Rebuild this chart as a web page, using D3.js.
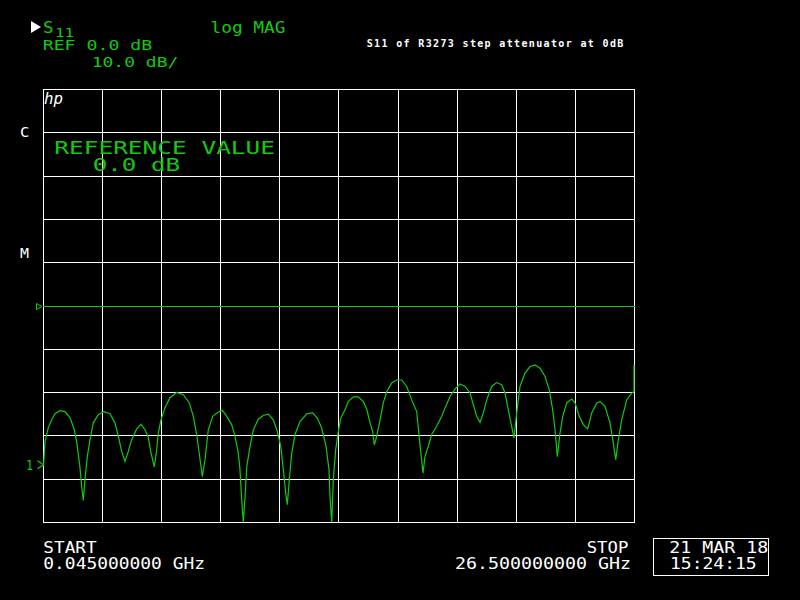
<!DOCTYPE html>
<html>
<head>
<meta charset="utf-8">
<script src="https://cdn.jsdelivr.net/npm/d3@7"></script>
<style>
  html, body { margin: 0; padding: 0; background: #000; }
  svg { display: block; }
  text { font-family: "DejaVu Sans Mono", "Liberation Mono", monospace; }
</style>
</head>
<body>
<svg id="chart" width="800" height="600"></svg>
<script>
// ---- Data ----
const startGHz = 0.045;
const stopGHz = 26.5;
const refDB = 0.0;
const dbPerDiv = 10.0;
const freqGHz = [
  0.067, 0.135, 0.282, 0.434, 0.582, 0.806, 1.03, 1.254, 1.446, 1.554,
  1.701, 1.777, 1.849, 1.925, 2.028, 2.149, 2.297, 2.52, 2.776, 3.044,
  3.268, 3.416, 3.568, 3.716, 3.863, 4.015, 4.239, 4.432, 4.611, 4.759,
  4.866, 5.027, 5.135, 5.206, 5.327, 5.506, 5.73, 6.03, 6.325, 6.594,
  6.773, 6.925, 7.028, 7.176, 7.297, 7.444, 7.641, 7.892, 8.071, 8.268,
  8.492, 8.639, 8.787, 8.863, 8.939, 9.011, 9.091, 9.167, 9.315, 9.463,
  9.687, 9.906, 10.13, 10.355, 10.534, 10.686, 10.803, 10.91, 10.982, 11.071,
  11.179, 11.325, 11.549, 11.849, 12.118, 12.324, 12.521, 12.713, 12.847, 12.892,
  12.968, 13.04, 13.147, 13.264, 13.371, 13.564, 13.711, 13.935, 14.159, 14.383,
  14.535, 14.683, 14.804, 14.876, 14.983, 15.131, 15.279, 15.431, 15.655, 15.878,
  16.102, 16.326, 16.55, 16.774, 16.898, 17.055, 17.144, 17.292, 17.444, 17.668,
  17.892, 18.04, 18.264, 18.488, 18.712, 18.936, 19.159, 19.307, 19.459, 19.607,
  19.755, 19.907, 20.13, 20.354, 20.578, 20.726, 20.874, 21.025, 21.128, 21.249,
  21.397, 21.621, 21.845, 22.068, 22.292, 22.516, 22.708, 22.861, 22.964, 23.067,
  23.188, 23.309, 23.488, 23.711, 23.859, 24.052, 24.231, 24.428, 24.607, 24.831,
  24.979, 25.202, 25.426, 25.574, 25.682, 25.798, 25.95, 26.174, 26.398, 26.5,
  26.5
];
const s11dB = [
  -37.0, -31.5, -28.2, -26.4, -25.0, -24.3, -24.5, -25.9, -28.7, -31.5,
  -37.5, -41.8, -45.0, -40.2, -34.9, -31.0, -27.1, -25.2, -24.5, -25.0,
  -27.1, -30.2, -33.7, -36.0, -33.7, -31.0, -28.5, -27.4, -28.7, -30.5,
  -33.7, -37.3, -33.3, -29.4, -26.4, -23.6, -21.3, -20.1, -20.6, -22.5,
  -25.6, -29.8, -33.7, -39.5, -35.6, -28.7, -25.6, -24.6, -24.2, -25.6,
  -27.5, -30.2, -34.1, -37.9, -44.8, -50.0, -44.1, -37.2, -32.5, -28.7,
  -26.2, -25.4, -25.1, -26.4, -29.1, -32.5, -37.9, -43.3, -46.0, -40.2,
  -34.1, -29.8, -26.8, -25.0, -24.8, -26.0, -28.3, -32.5, -37.9, -44.1,
  -50.0, -40.2, -33.3, -29.1, -26.0, -24.1, -22.2, -21.1, -21.1, -22.2,
  -23.9, -27.1, -29.1, -32.2, -30.2, -26.4, -22.5, -19.9, -17.9, -17.2,
  -17.2, -18.7, -21.8, -24.5, -31.0, -38.7, -34.9, -32.5, -29.8, -27.9,
  -25.6, -23.7, -21.0, -19.3, -18.1, -18.7, -20.2, -22.9, -25.6, -27.0,
  -24.8, -21.8, -18.7, -17.8, -18.3, -20.2, -24.1, -27.9, -30.6, -24.8,
  -18.7, -15.6, -14.1, -13.7, -14.5, -16.4, -19.5, -24.1, -28.7, -34.9,
  -29.5, -25.6, -22.5, -21.6, -22.5, -25.6, -27.5, -28.5, -24.8, -22.5,
  -22.2, -23.3, -27.1, -31.8, -35.6, -31.0, -26.4, -21.8, -20.2, -19.9,
  -13.7
];
const yTicksDB = [-50, -40, -30, -20, -10, 0, 10, 20, 30, 40, 50];
const xDivisions = 10;
const marker1 = { label: "1", freq: 0.067, db: -37.0 };

const headerTitle = "S11 of R3273 step attenuator at 0dB";
const startLabel = "START";
const startValue = "0.045000000 GHz";
const stopLabel = "STOP";
const stopValue = "26.500000000 GHz";
const dateText = "21 MAR 18";
const timeText = "15:24:15";

// ---- Drawing ----
const GREEN = "#14c814";
const WHITE = "#ffffff";
const svg = d3.select("#chart");
svg.append("rect").attr("width", 800).attr("height", 600).attr("fill", "#000");

const gLeft = 43, gRight = 634, gTop = 89, gBottom = 522;
const x = d3.scaleLinear().domain([startGHz, stopGHz]).range([gLeft, gRight]);
const y = d3.scaleLinear()
  .domain([refDB - 5 * dbPerDiv, refDB + 5 * dbPerDiv])
  .range([gBottom, gTop]);

const xGrid = d3.range(xDivisions + 1).map(i => startGHz + i * (stopGHz - startGHz) / xDivisions);

const grid = svg.append("g").attr("shape-rendering", "crispEdges");
grid.selectAll("line.v").data(xGrid).join("line")
  .attr("class", "v")
  .attr("x1", d => Math.round(x(d)) + 0.5).attr("x2", d => Math.round(x(d)) + 0.5)
  .attr("y1", gTop).attr("y2", gBottom + 1)
  .attr("stroke", WHITE).attr("stroke-width", 1);
grid.selectAll("line.h").data(yTicksDB).join("line")
  .attr("class", "h")
  .attr("x1", gLeft).attr("x2", gRight + 1)
  .attr("y1", d => Math.round(y(d)) + 0.5).attr("y2", d => Math.round(y(d)) + 0.5)
  .attr("stroke", d => d === refDB ? GREEN : WHITE).attr("stroke-width", 1);

// reference position marker (open triangle)
const ry = Math.round(y(refDB)) + 0.5;
svg.append("path")
  .attr("d", `M36.5,${ry - 3} L42,${ry} L36.5,${ry + 3} Z`)
  .attr("fill", "none").attr("stroke", GREEN).attr("stroke-width", 1);

// trace
const pts = freqGHz.map((f, i) => [f, s11dB[i]]);
const line = d3.line().x(d => x(d[0])).y(d => y(d[1])).curve(d3.curveLinear);
svg.append("path").datum(pts)
  .attr("d", line)
  .attr("fill", "none").attr("stroke", GREEN).attr("stroke-width", 1.2)
  .attr("stroke-linejoin", "miter");

// marker 1
const mx = x(marker1.freq), my = y(marker1.db);
svg.append("path")
  .attr("d", `M${mx - 6},${my - 5} L${mx},${my - 1} L${mx - 6},${my + 3}`)
  .attr("fill", "none").attr("stroke", GREEN).attr("stroke-width", 1.2);
function txt(s, xx, yy, size, color, len, opts = {}) {
  const t = svg.append("text").attr("x", xx).attr("y", yy)
    .attr("font-size", size).attr("fill", color).text(s);
  if (len) t.attr("textLength", len).attr("lengthAdjust", opts.adjust || "spacingAndGlyphs");
  if (opts.style) t.attr("font-style", opts.style);
  if (opts.weight) t.attr("font-weight", opts.weight);
  if (opts.family) t.attr("font-family", opts.family);
  return t;
}
txt(marker1.label, 26, 470, 14, GREEN, 7);

// header
svg.append("path").attr("d", "M31,21 L41,27 L31,33 Z").attr("fill", WHITE);
txt("S", 43, 33.3, 16, GREEN, 10.5);
txt("11", 55, 37, 12, GREEN, 19);
txt("log MAG", 210.5, 33, 15.5, GREEN, 75);
txt("REF 0.0 dB", 42.7, 50.3, 14, GREEN, 109.6);
txt("10.0 dB/", 91.7, 67.3, 14, GREEN, 86.6);
txt(headerTitle, 366.7, 47.3, 10, WHITE, 256.6, { adjust: "spacing", weight: "bold" });

// inside-grid labels
txt("hp", 44, 104, 15, WHITE, 19, { style: "italic", family: "DejaVu Sans" });
txt("REFERENCE VALUE", 54.3, 154, 18.5, GREEN, 220.7);
txt("0.0 dB", 92.7, 171, 18.5, GREEN, 87.3);

// left channel letters
txt("C", 20, 136.7, 14.5, WHITE, 9.3);
txt("M", 20, 258, 14.5, WHITE, 9);

// footer
txt(startLabel, 43.3, 552.7, 15, WHITE, 53.4);
txt(startValue, 43.3, 569.3, 15, WHITE, 161.7);
txt(stopLabel, 586.7, 552.7, 15, WHITE, 41.6);
txt(stopValue, 455, 569.3, 15, WHITE, 176);
svg.append("rect").attr("x", 653.5).attr("y", 538.5).attr("width", 115).attr("height", 36.5)
  .attr("fill", "none").attr("stroke", WHITE).attr("stroke-width", 1).attr("shape-rendering", "crispEdges");
txt(dateText, 669.3, 552.7, 15, WHITE, 99);
txt(timeText, 670, 569.3, 15, WHITE, 86.7);
</script>
</body>
</html>
